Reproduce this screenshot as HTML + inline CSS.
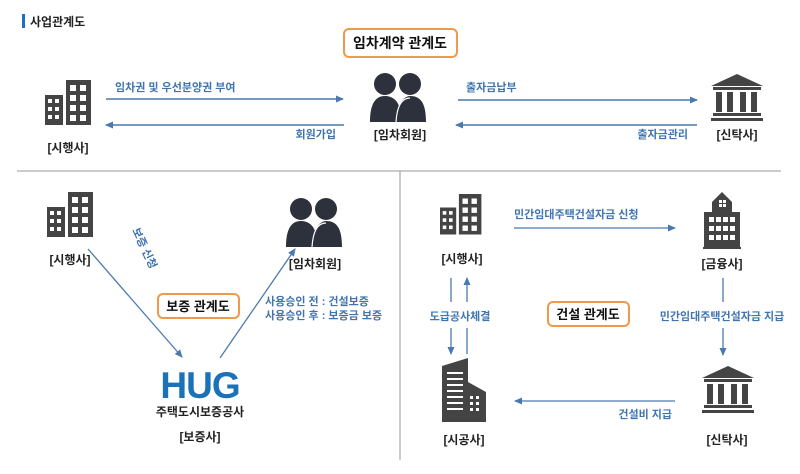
<!DOCTYPE html>
<html><head><meta charset="utf-8"><style>
html,body{margin:0;padding:0;background:#fff;}
svg{display:block;font-family:"Liberation Sans","Noto Sans CJK KR",sans-serif;}
.b{fill:#3f74b0;font-size:11px;font-weight:bold;}
.k{fill:#222;font-size:12px;font-weight:bold;}
.t{fill:#111;font-size:14px;font-weight:bold;}
</style></head><body>
<svg width="800" height="474" viewBox="0 0 800 474">
<defs>
<marker id="a" markerWidth="8" markerHeight="8" refX="7" refY="4" orient="auto" markerUnits="userSpaceOnUse"><path d="M0,0.5 L8,4 L0,7.5z" fill="#4a78b0"/></marker>
<g id="bld">
<rect x="0" y="15" width="18" height="30" fill="#444"/>
<rect x="21" y="0" width="25" height="45" fill="#444"/>
<g fill="#fff">
<rect x="3" y="19" width="4" height="4"/><rect x="10" y="19" width="4" height="4"/>
<rect x="3" y="27" width="4" height="4"/><rect x="10" y="27" width="4" height="4"/>
<rect x="3" y="35" width="4" height="4"/><rect x="10" y="35" width="4" height="4"/>
<rect x="25" y="5" width="6" height="6"/><rect x="35" y="5" width="6" height="6"/>
<rect x="25" y="15" width="6" height="6"/><rect x="35" y="15" width="6" height="6"/>
<rect x="25" y="25" width="6" height="6"/><rect x="35" y="25" width="6" height="6"/>
<rect x="25" y="35" width="6" height="6"/><rect x="35" y="35" width="6" height="6"/>
</g></g>
<g id="ppl" fill="#2c313b">
<circle cx="15" cy="12" r="11"/><circle cx="40" cy="12" r="11"/>
<path d="M0,50 C0,28 8,24 15,24 C22,24 27,28 29,34 C31,28 36,24 40,24 C50,24 56,30 56,50z" />
<path d="M26,50 C27,34 32,26 40,26" stroke="#fff" stroke-width="1.2" fill="none"/>
</g>
<g id="bank" fill="#444">
<path d="M0,12 L26,0 L52,12z"/>
<rect x="2" y="13" width="48" height="3"/>
<rect x="5" y="18" width="6" height="20"/><rect x="16" y="18" width="6" height="20"/><rect x="29" y="18" width="6" height="20"/><rect x="40" y="18" width="6" height="20"/>
<rect x="2" y="39" width="48" height="3"/><rect x="0" y="44" width="52" height="3"/>
</g>
</defs>

<rect x="22" y="14" width="3" height="14" fill="#1e6fc0"/>
<text x="30" y="26" style="font-size:12px;font-weight:bold;fill:#222">사업관계도</text>

<rect x="344" y="29" width="113" height="28" rx="5" fill="#fff" stroke="#ee9a4d" stroke-width="2"/>
<text x="400" y="48" text-anchor="middle" class="t">임차계약 관계도</text>

<use href="#bld" x="45" y="80"/>
<text x="68" y="152" text-anchor="middle" class="k">[시행사]</text>
<line x1="106" y1="99" x2="343" y2="99" stroke="#4a78b0" stroke-width="1.5" marker-end="url(#a)"/>
<text x="115" y="91" class="b">임차권 및 우선분양권 부여</text>
<line x1="344" y1="125" x2="106" y2="125" stroke="#4a78b0" stroke-width="1.5" marker-end="url(#a)"/>
<text x="336" y="138" text-anchor="end" class="b">회원가입</text>

<use href="#ppl" x="370" y="72"/>
<text x="400" y="139" text-anchor="middle" class="k">[임차회원]</text>
<line x1="458" y1="100" x2="697" y2="100" stroke="#4a78b0" stroke-width="1.5" marker-end="url(#a)"/>
<text x="466" y="91" class="b">출자금납부</text>
<line x1="697" y1="125" x2="456" y2="125" stroke="#4a78b0" stroke-width="1.5" marker-end="url(#a)"/>
<text x="688" y="138" text-anchor="end" class="b">출자금관리</text>

<use href="#bank" x="711" y="74"/>
<text x="737" y="139" text-anchor="middle" class="k">[신탁사]</text>

<line x1="17" y1="171" x2="781" y2="171" stroke="#999" stroke-width="1"/>
<line x1="400" y1="171" x2="400" y2="460" stroke="#999" stroke-width="1"/>

<use href="#bld" x="47" y="192"/>
<text x="70" y="264" text-anchor="middle" class="k">[시행사]</text>
<line x1="88" y1="249" x2="182" y2="357" stroke="#4a78b0" stroke-width="1.3" marker-end="url(#a)"/>
<text x="0" y="0" class="b" transform="translate(132,230) rotate(65)">보증 신청</text>
<use href="#ppl" x="286" y="197"/>
<text x="315" y="268" text-anchor="middle" class="k">[임차회원]</text>
<line x1="220" y1="358" x2="295" y2="249" stroke="#4a78b0" stroke-width="1.3" marker-end="url(#a)"/>
<rect x="158" y="294" width="81" height="24" rx="5" fill="#fff" stroke="#ee9a4d" stroke-width="2"/>
<text x="198" y="311" text-anchor="middle" style="font-size:13px;font-weight:bold;fill:#111">보증 관계도</text>
<text x="265" y="305" class="b">사용승인 전 : 건설보증</text>
<text x="265" y="319" class="b">사용승인 후 : 보증금 보증</text>
<text x="200" y="398" text-anchor="middle" style="font-size:37px;font-weight:bold;fill:#1a72b8;letter-spacing:-1px">HUG</text>
<text x="200" y="416" text-anchor="middle" style="font-size:12px;font-weight:bold;fill:#222">주택도시보증공사</text>
<text x="200" y="441" text-anchor="middle" class="k">[보증사]</text>

<use href="#bld" x="440" y="194" transform="translate(440,194) scale(0.9) translate(-440,-194)"/>
<text x="462" y="263" text-anchor="middle" class="k">[시행사]</text>
<line x1="514" y1="228" x2="675" y2="228" stroke="#4a78b0" stroke-width="1.3" marker-end="url(#a)"/>
<text x="514" y="218" class="b">민간임대주택건설자금 신청</text>

<g fill="#444">
<path d="M712,202 L722,192 L732,202 L732,212 L740,212 L740,248 L704,248 L704,212 L712,212z"/>
<rect x="703" y="247" width="38" height="2"/>
<g fill="#fff">
<rect x="719" y="200" width="3" height="3"/><rect x="723" y="200" width="3" height="3"/><rect x="719" y="204" width="3" height="3"/><rect x="723" y="204" width="3" height="3"/>
<rect x="709" y="217" width="5" height="5"/><rect x="716" y="217" width="5" height="5"/><rect x="723" y="217" width="5" height="5"/><rect x="730" y="217" width="5" height="5"/>
<rect x="709" y="226" width="5" height="5"/><rect x="716" y="226" width="5" height="5"/><rect x="723" y="226" width="5" height="5"/><rect x="730" y="226" width="5" height="5"/>
<rect x="709" y="235" width="5" height="5"/><rect x="716" y="235" width="5" height="5"/><rect x="723" y="235" width="5" height="5"/><rect x="730" y="235" width="5" height="5"/>
</g></g>
<text x="722" y="268" text-anchor="middle" class="k">[금융사]</text>
<line x1="723" y1="278" x2="723" y2="302" stroke="#4a78b0" stroke-width="1.3"/>
<line x1="723" y1="328" x2="723" y2="355" stroke="#4a78b0" stroke-width="1.3" marker-end="url(#a)"/>
<text x="722" y="320" text-anchor="middle" class="b">민간임대주택건설자금 지급</text>

<use href="#bank" x="702" y="366"/>
<text x="727" y="444" text-anchor="middle" class="k">[신탁사]</text>
<line x1="675" y1="401" x2="515" y2="401" stroke="#4a78b0" stroke-width="1.3" marker-end="url(#a)"/>
<text x="672" y="418" text-anchor="end" class="b">건설비 지급</text>

<g fill="#444">
<path d="M442,366 L468,358 L468,382 L486,392 L486,422 L442,422z"/>
<g fill="#fff">
<rect x="447" y="372" width="16" height="2"/><rect x="447" y="378" width="16" height="2"/><rect x="447" y="384" width="16" height="2"/><rect x="447" y="390" width="16" height="2"/><rect x="447" y="396" width="16" height="2"/><rect x="447" y="402" width="16" height="2"/><rect x="447" y="408" width="16" height="2"/>
<rect x="470" y="396" width="3" height="3"/><rect x="476" y="396" width="3" height="3"/><rect x="470" y="402" width="3" height="3"/><rect x="476" y="402" width="3" height="3"/><rect x="470" y="408" width="3" height="3"/><rect x="476" y="408" width="3" height="3"/>
</g></g>
<text x="464" y="444" text-anchor="middle" class="k">[시공사]</text>
<line x1="451" y1="278" x2="451" y2="302" stroke="#4a78b0" stroke-width="1.3"/>
<line x1="451" y1="328" x2="451" y2="354" stroke="#4a78b0" stroke-width="1.3" marker-end="url(#a)"/>
<line x1="467" y1="354" x2="467" y2="328" stroke="#4a78b0" stroke-width="1.3"/>
<line x1="467" y1="302" x2="467" y2="278" stroke="#4a78b0" stroke-width="1.3" marker-end="url(#a)"/>
<text x="460" y="320" text-anchor="middle" class="b">도급공사체결</text>

<rect x="548" y="302" width="81" height="24" rx="5" fill="#fff" stroke="#ee9a4d" stroke-width="2"/>
<text x="588" y="319" text-anchor="middle" style="font-size:13px;font-weight:bold;fill:#111">건설 관계도</text>
</svg>
</body></html>
